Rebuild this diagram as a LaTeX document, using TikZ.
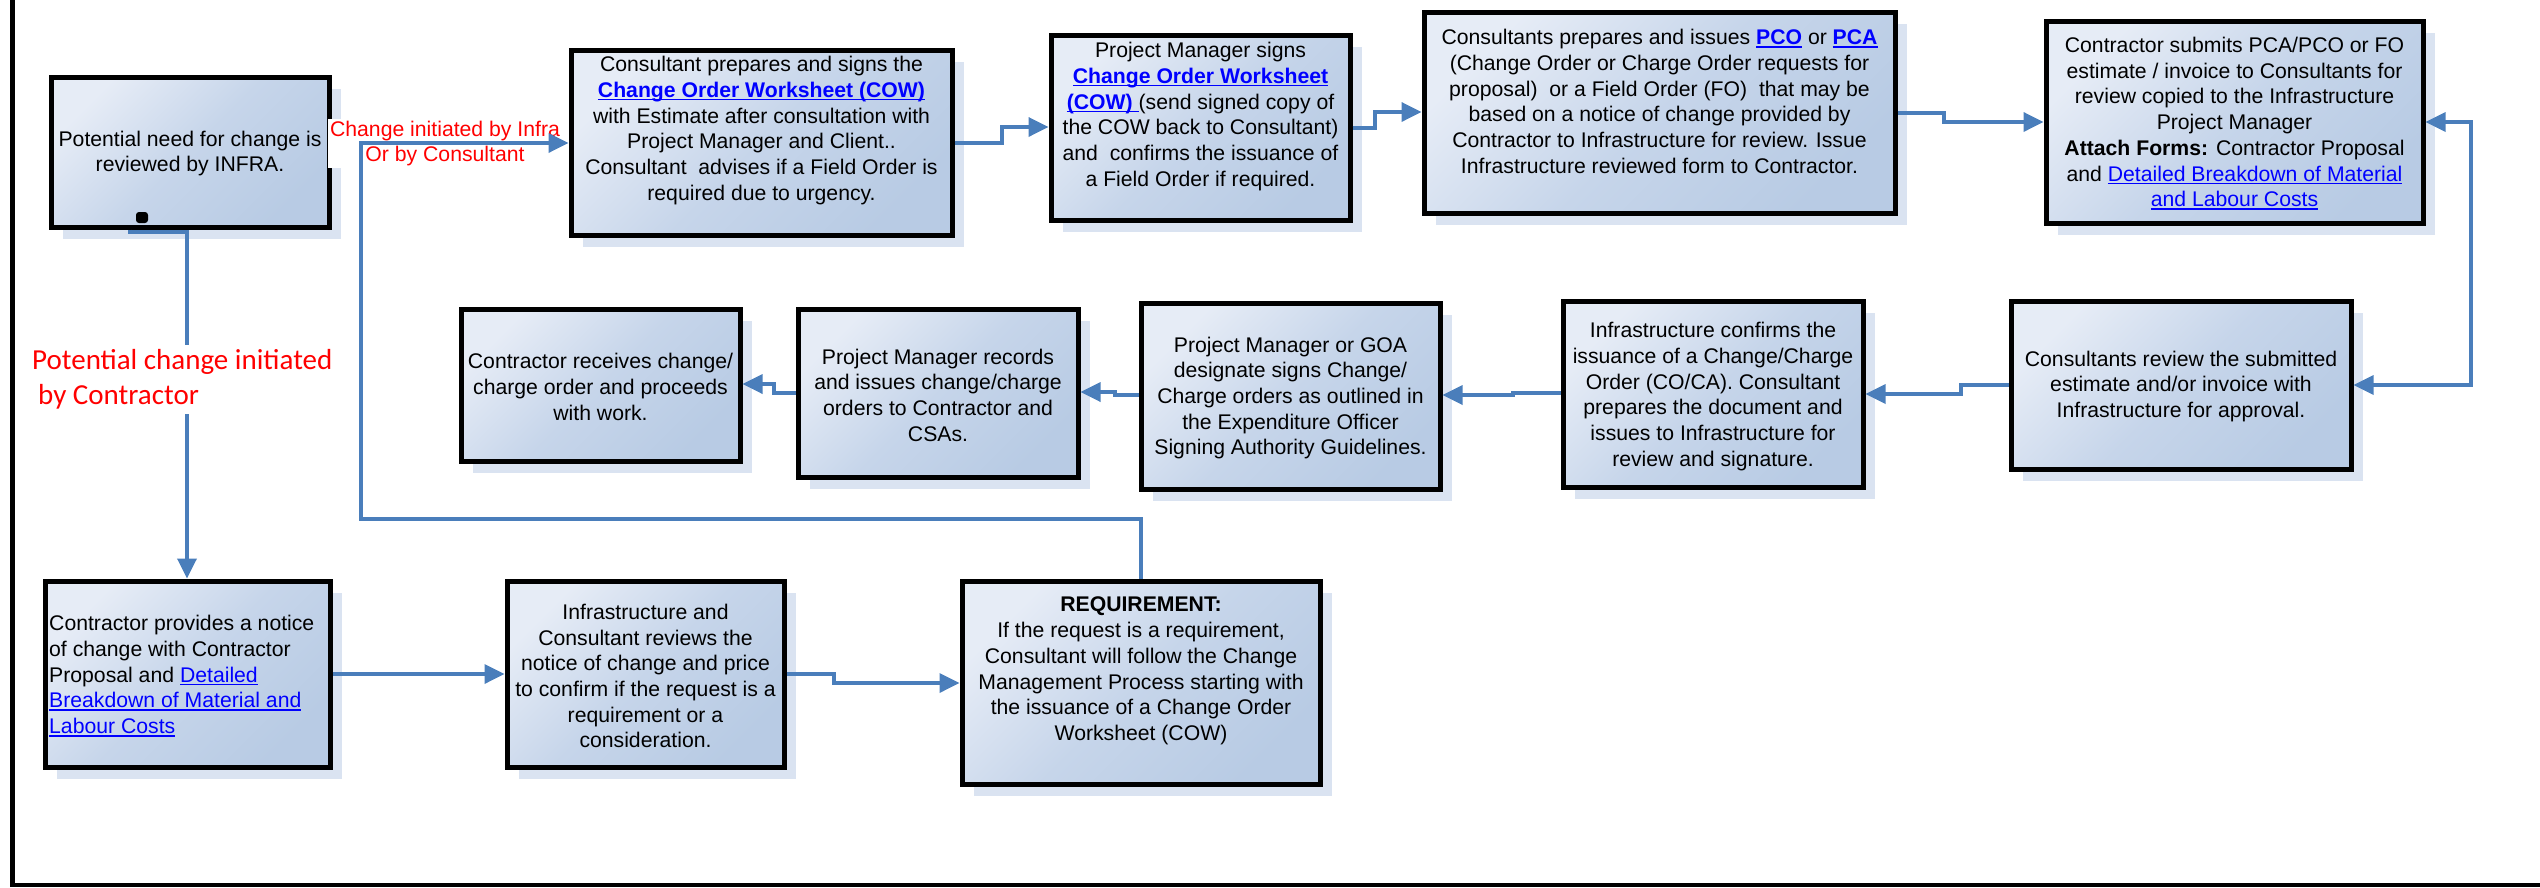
\documentclass[tikz,border=0pt]{standalone}
\usepackage{fontspec}
\setmainfont{Liberation Sans}
\newfontfamily\calibfont{Carlito}
\usetikzlibrary{arrows.meta,shadows}
\definecolor{connc}{HTML}{4A7EBB}
\definecolor{boxlight}{HTML}{E6ECF6}
\definecolor{boxmid}{HTML}{C6D5EA}
\definecolor{boxdark}{HTML}{B8CBE4}
\definecolor{shadowc}{HTML}{DAE3F1}
\definecolor{linkblue}{HTML}{0000FF}
\definecolor{redtxt}{HTML}{FF0000}
\newsavebox{\lnkbox}
\newcommand{\lnk}[1]{\textcolor{linkblue}{\sbox{\lnkbox}{#1}\rlap{\rule[-3pt]{\wd\lnkbox}{1.5pt}}\usebox{\lnkbox}}}
\newcommand{\blnk}[1]{\lnk{\textbf{#1}}}
\begin{document}
\begin{tikzpicture}[x=1pt,y=-1pt,
  >={Triangle[length=20pt,width=19pt]},
  box/.style={draw=black, line width=5pt, inner sep=0pt,
    top color=boxlight, bottom color=boxdark, middle color=boxmid, shading angle=45,
    drop shadow={shadow xshift=12pt, shadow yshift=-12pt, fill=shadowc, opacity=1}},
  txt/.style={align=center, inner sep=0pt, font=\fontsize{21.2}{25.7}\selectfont},
  conn/.style={draw=connc, line width=3.5pt, ->},
  redlbl/.style={fill=white, text=redtxt, inner sep=2pt, align=center, font=\fontsize{21.2}{25}\selectfont},
  redbig/.style={fill=white, text=redtxt, inner xsep=2pt, inner ysep=5pt, align=left, font=\calibfont\fontsize{29}{35}\selectfont}
]
\useasboundingbox (0,0) rectangle (2540,887);
\fill[white] (0,0) rectangle (2540,887);

% frame
\draw[line width=5pt] (12,0) -- (12,885);
\draw[line width=4pt] (10,885) -- (2540,885);

% boxes
\node[box, minimum width=278pt, minimum height=150pt] (b1) at (190,152) {};
\node[box, minimum width=381pt, minimum height=185pt] (b2) at (761.5,142.5) {};
\node[box, minimum width=299pt, minimum height=185pt] (b3) at (1200.5,127.5) {};
\node[box, minimum width=471pt, minimum height=201pt] (b4) at (1659.5,112.5) {};
\node[box, minimum width=377pt, minimum height=202pt] (b5) at (2234.5,122) {};
\node[box, minimum width=340pt, minimum height=168pt] (b6) at (2181,385) {};
\node[box, minimum width=300pt, minimum height=186pt] (b7) at (1713,394) {};
\node[box, minimum width=299pt, minimum height=186pt] (b8) at (1290.5,396) {};
\node[box, minimum width=280pt, minimum height=168pt] (b9) at (938,393) {};
\node[box, minimum width=279pt, minimum height=152pt] (b10) at (600.5,385) {};
\node[box, minimum width=285pt, minimum height=186pt] (b11) at (187.5,674) {};
\node[box, minimum width=277pt, minimum height=186pt] (b12) at (645.5,674) {};
\node[box, minimum width=358pt, minimum height=203pt] (b13) at (1141,682.5) {};

% texts
\node[txt] (t1) at (190,153.5) {Potential need for change is\\reviewed by INFRA.};
\node[txt] (t2) at (761.5,130.5) {Consultant prepares and signs the\\
  \blnk{Change Order Worksheet (COW)}\\
  with Estimate after consultation with\\
  Project Manager and Client..\\
  Consultant~ advises if a Field Order is\\
  required due to urgency.};
\node[txt] (t3) at (1200.5,116.5) {Project Manager signs\\
  \blnk{Change Order Worksheet}\\
  \blnk{(COW)~}(send signed copy of\\
  the COW back to Consultant)\\
  and~ confirms the issuance of\\
  a Field Order if required.};
\node[txt] (t4) at (1659.5,101.5) {Consultants prepares and issues \blnk{PCO} or \blnk{PCA}\\
  (Change Order or Charge Order requests for\\
  proposal)~ or a Field Order (FO)~ that may be\\
  based on a notice of change provided by\\
  Contractor to Infrastructure for review. Issue\\
  Infrastructure reviewed form to Contractor.};
\node[txt] (t5) at (2234.5,123.5) {Contractor submits PCA/PCO or FO\\
  estimate / invoice to Consultants for\\
  review copied to the Infrastructure\\
  Project Manager\\
  \textbf{Attach Forms:} Contractor Proposal\\
  and \lnk{Detailed Breakdown of Material}\\
  \lnk{and Labour Costs}};
\node[txt] (t6) at (2181,386.5) {Consultants review the submitted\\
  estimate and/or invoice with\\
  Infrastructure for approval.};
\node[txt] (t7) at (1713,396.5) {Infrastructure confirms the\\
  issuance of a Change/Charge\\
  Order (CO/CA). Consultant\\
  prepares the document and\\
  issues to Infrastructure for\\
  review and signature.};
\node[txt] (t8) at (1290.5,398) {Project Manager or GOA\\
  designate signs Change/\\
  Charge orders as outlined in\\
  the Expenditure Officer\\
  Signing Authority Guidelines.};
\node[txt] (t9) at (938,395) {Project Manager records\\
  and issues change/charge\\
  orders to Contractor and\\
  CSAs.};
\node[txt] (t10) at (600.5,387) {Contractor receives change/\\
  charge order and proceeds\\
  with work.};
\node[txt, align=left, anchor=west] (t11) at (49,676) {Contractor provides a notice\\
  of change with Contractor\\
  Proposal and \lnk{Detailed}\\
  \lnk{Breakdown of Material and}\\
  \lnk{Labour Costs}};
\node[txt] (t12) at (645.5,676) {Infrastructure and\\
  Consultant reviews the\\
  notice of change and price\\
  to confirm if the request is a\\
  requirement or a\\
  consideration.};
\node[txt] (t13) at (1141,671) {\textbf{REQUIREMENT:}\\
  If the request is a requirement,\\
  Consultant will follow the Change\\
  Management Process starting with\\
  the issuance of a Change Order\\
  Worksheet (COW)};

% label beside box 1
\node[redlbl] (lblinfra) at (445,143.5) {Change initiated by Infra\\Or by Consultant};

% connectors
\draw[conn] (b2.east |- 0,143) -- (1002,143) -- (1002,127) -- (b3.west |- 0,127);
\draw[conn] (b3.east |- 0,128) -- (1375,128) -- (1375,112) -- (b4.west |- 0,112);
\draw[conn] (b4.east |- 0,113) -- (1944,113) -- (1944,122) -- (b5.west |- 0,122);
\draw[conn, <->] (b5.east |- 0,122) -- (2471,122) -- (2471,385) -- (b6.east |- 0,385);
\draw[conn] (b6.west |- 0,385) -- (1961,385) -- (1961,394) -- (b7.east |- 0,394);
\draw[conn] (b7.west |- 0,393) -- (1513,393) -- (1513,395) -- (b8.east |- 0,395);
\draw[conn] (b8.west |- 0,395) -- (1115,395) -- (1115,392) -- (b9.east |- 0,392);
\draw[conn] (b9.west |- 0,393) -- (774,393) -- (774,384) -- (b10.east |- 0,384);
\draw[conn] (b1.south -| 130,0) -- (130,232) -- (187,232) -- (187,0 |- b11.north);
\draw[conn] (b11.east |- 0,674) -- (b12.west |- 0,674);
\draw[conn] (b12.east |- 0,674) -- (834,674) -- (834,683) -- (b13.west |- 0,683);
\draw[conn] (b13.north) -- (1141,519) -- (361,519) -- (361,143) -- (b2.west |- 0,143);

% small black mark at bottom of box 1
\fill[black, rounded corners=3pt] (136,212) rectangle (148,223);

% red label on the vertical connector
\node[redbig, anchor=west] (lblcontr) at (30,379.5) {Potential change initiated\\\hspace*{6pt}by Contractor};
\end{tikzpicture}
\end{document}
